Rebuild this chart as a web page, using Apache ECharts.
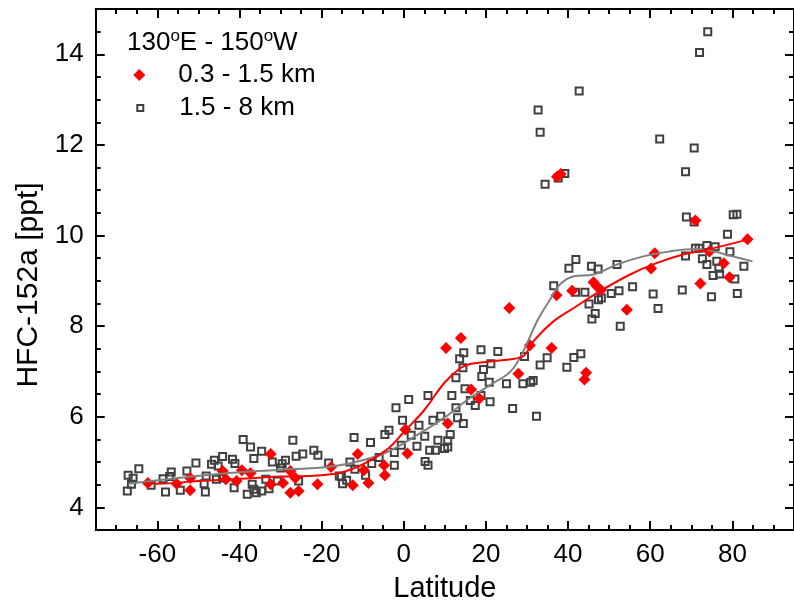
<!DOCTYPE html>
<html>
<head>
<meta charset="utf-8">
<script src="https://cdn.jsdelivr.net/npm/echarts@6/dist/echarts.min.js"></script>
<style>
html,body{margin:0;padding:0;background:#fff;}
#chart{width:794px;height:608px;}
</style>
</head>
<body>
<div id="chart"></div>
<script>
// Data (latitude, HFC-152a ppt)
const lowAlt = [ // 0.3 - 1.5 km
  [-62.3,4.54],[-55.3,4.52],[-52.0,4.65],[-52.0,4.38],[-44.1,4.8],[-43.3,4.62],[-40.7,4.58],
  [-39.4,4.82],[-37.3,4.75],[-32.4,5.18],[-32.4,4.51],[-29.4,4.54],[-27.6,4.8],[-26.4,4.65],
  [-27.6,4.32],[-25.6,4.36],[-21.0,4.51],[-17.7,4.89],[-12.4,4.49],[-11.2,5.18],[-9.7,4.82],
  [-8.6,4.54],[-4.8,4.93],[-4.6,4.71],[0.4,5.72],[0.9,5.19],[10.3,7.52],[13.9,7.74],[10.7,5.85],
  [16.4,6.6],[18.4,6.4],[25.7,8.4],[27.9,6.95],[30.7,7.58],[36.0,7.52],[37.3,11.3],[38.2,11.36],
  [44.4,6.97],[44.0,6.82],[37.2,8.68],[41.0,8.78],[46.2,8.97],[47.0,8.88],[48.0,8.8],[54.3,8.36],
  [60.2,9.27],[61.1,9.61],[71.0,10.33],[72.2,8.94],[74.4,9.65],[77.9,9.39],[79.3,9.08],[83.7,9.92]
];
const highAlt = [ // 1.5 - 8 km
  [-67.3,4.36],[-67.1,4.71],[-66.3,4.51],[-65.9,4.64],[-64.5,4.85],[-61.5,4.49],[-58.6,4.63],
  [-58.0,4.34],[-56.6,4.78],[-57.0,4.68],[-54.4,4.38],[-52.8,4.8],[-50.6,4.98],[-48.3,4.34],
  [-48.6,4.52],[-48.1,4.69],[-46.8,4.95],[-46.1,5.04],[-45.6,4.62],[-45.2,4.91],[-44.1,5.12],
  [-44.1,4.65],[-41.7,5.06],[-41.1,4.97],[-41.3,4.43],[-39.1,5.5],[-37.3,5.33],[-36.5,5.08],
  [-34.6,5.24],[-38.1,4.29],[-36.9,4.51],[-36.5,4.4],[-35.9,4.32],[-34.6,4.36],[-33.6,4.62],
  [-32.8,4.41],[-32.0,5.0],[-30.8,4.58],[-30.0,4.87],[-29.6,4.96],[-28.8,5.04],[-27.0,5.48],
  [-26.2,5.13],[-24.6,5.18],[-25.6,4.58],[-21.9,5.26],[-20.9,5.15],[-18.3,4.98],
  [-15.7,4.69],[-15.2,4.68],[-14.9,4.52],[-13.9,4.6],[-13.1,5.0],[-12.1,5.54],[-11.9,4.84],
  [-9.3,4.71],[-8.1,5.43],[-7.8,4.97],[-6.0,5.1],[-4.6,5.61],[-3.6,5.7],[-2.3,4.93],[-2.3,5.21],
  [-1.9,6.2],[-0.3,5.92],[-0.6,5.37],[1.2,6.38],[1.8,5.59],[3.2,5.35],[3.7,5.81],[5.1,5.57],
  [5.2,5.01],[5.9,4.93],[5.9,6.47],[7.1,5.92],[6.3,5.26],[7.7,5.26],[8.3,5.48],[9.0,6.01],
  [9.9,5.3],[10.7,5.33],[10.7,5.47],[11.3,5.61],[11.7,6.47],[12.7,6.2],[13.1,5.98],[14.5,5.85],
  [12.7,6.86],[13.6,7.28],[14.6,7.41],[14.4,7.08],[14.9,6.62],[16.2,6.36],[17.4,6.25],[18.8,7.48],
  [19.0,6.89],[19.4,7.04],[18.8,6.47],[21.0,6.33],[20.8,6.76],[21.2,7.17],[22.9,7.44],[25.0,6.73],
  [26.5,6.18],[29.0,6.73],[29.4,7.33],[30.9,6.76],[31.5,6.8],[32.3,6.01],[33.2,7.14],[34.9,7.3],
  [39.7,7.09],[41.4,7.31],[43.1,7.39],[42.7,13.19],[32.7,12.77],[33.2,12.28],[34.4,11.13],
  [37.6,11.27],[39.2,11.37],[62.3,12.13],[70.7,11.93],[68.6,11.41],[68.8,10.41],[70.7,10.3],
  [80.2,10.46],[81.1,10.47],[78.8,10.03],[41.9,9.47],[40.2,9.28],[45.7,9.32],[47.3,9.26],
  [51.9,9.36],[36.5,8.89],[41.8,8.75],[44.1,8.75],[50.5,8.72],[52.4,8.78],[55.7,8.87],[48.1,8.62],
  [47.4,8.58],[45.1,8.49],[46.6,8.28],[45.8,8.16],[52.7,8.0],[60.7,8.71],[61.9,8.39],[67.8,8.8],
  [74.9,8.65],[81.2,8.72],[68.6,9.55],[71.0,9.72],[71.9,9.72],[73.8,9.78],[75.8,9.75],[72.7,9.49],
  [73.8,9.36],[76.2,9.43],[76.7,9.28],[75.3,9.12],[76.9,9.15],[79.4,9.64],[80.6,9.04],[82.8,9.32],
  [74.0,14.5],[72.0,14.04]
];
const lowFit = [
  [-63,4.53],[-60,4.52],[-50,4.58],[-40,4.63],[-30,4.68],[-20,4.71],[-12.7,4.84],[-4.6,5.24],
  [0.2,5.68],[5.1,6.16],[9.9,6.75],[13.9,7.08],[16.4,7.17],[21.2,7.22],[26.9,7.28],[29.3,7.35],
  [31.7,7.68],[36.5,8.11],[41.4,8.4],[47.0,8.73],[55.1,9.14],[61.5,9.39],[68.0,9.58],[74.4,9.7],[83.7,9.91]
];
const highFit = [
  [-67,4.52],[-55,4.65],[-42.5,4.76],[-30,4.83],[-20,4.88],[-12.7,4.98],[-4.6,5.2],[3.5,5.61],
  [9.9,5.98],[15.6,6.38],[21.2,6.71],[26.0,7.0],[29.3,7.48],[32.5,8.12],[35.7,8.6],[38.0,8.92],
  [41.4,9.1],[46.2,9.14],[51.9,9.36],[58.3,9.54],[64.8,9.65],[71.2,9.7],[75.3,9.65],[80.1,9.54],[84.9,9.43]
];
const xTicks = [-60,-40,-20,0,20,40,60,80];
const yTicks = [4,6,8,10,12,14];

const FONT = "'Liberation Sans', Arial, sans-serif";

function mkAxis(pos, opts){
  return Object.assign({
    type:'value', position:pos, gridIndex:0,
    axisLine:{show:true, onZero:false, lineStyle:{color:'#000',width:2}},
    splitLine:{show:false},
    axisLabel:{show:false},
    axisTick:{show:false}
  }, opts);
}
const xMin=-75, xMax=95, yMin=3.5, yMax=15;
const hiddenLine = {show:false, onZero:false};
const majorTick = (vals) => ({show:true,inside:true,length:9,customValues:vals,lineStyle:{color:'#000',width:2}});
const minorTick = {show:true,inside:true,length:5,lineStyle:{color:'#000',width:2}};

const xAxes = [
  mkAxis('bottom',{min:xMin,max:xMax,
    axisTick:majorTick(xTicks),
    axisLabel:{show:true,customValues:xTicks,margin:12,fontSize:26,color:'#000',fontFamily:FONT},
    name:'Latitude', nameLocation:'middle', nameGap:44,
    nameTextStyle:{fontSize:29,color:'#000',fontFamily:FONT}}),
  mkAxis('bottom',{min:xMin,max:xMax,interval:5,axisLine:hiddenLine,axisTick:minorTick}),
  mkAxis('top',{min:xMin,max:xMax,axisTick:majorTick(xTicks)}),
  mkAxis('top',{min:xMin,max:xMax,interval:5,axisLine:hiddenLine,axisTick:minorTick})
];
const yAxes = [
  mkAxis('left',{min:yMin,max:yMax,
    axisTick:majorTick(yTicks),
    axisLabel:{show:true,customValues:yTicks,margin:12,fontSize:26,color:'#000',fontFamily:FONT},
    name:'HFC-152a [ppt]', nameLocation:'middle', nameGap:52,
    nameTextStyle:{fontSize:30,color:'#000',fontFamily:FONT,padding:[0,31,0,0]}}),
  mkAxis('left',{min:yMin,max:yMax,interval:0.5,axisLine:hiddenLine,axisTick:minorTick}),
  mkAxis('right',{min:yMin,max:yMax,axisTick:majorTick(yTicks)}),
  mkAxis('right',{min:yMin,max:yMax,interval:0.5,axisLine:hiddenLine,axisTick:minorTick})
];

const chart = echarts.init(document.getElementById('chart'), null, {renderer:'canvas'});
chart.setOption({
  animation:false,
  backgroundColor:'#fff',
  textStyle:{fontFamily:FONT},
  grid:{left:95.7, right:-4.3, top:9, bottom:77.3, containLabel:false},
  title:{
    text:'130{s|o}E - 150{s|o}W', left:127, top:28, padding:0,
    textStyle:{fontSize:26,fontWeight:'normal',color:'#000',fontFamily:FONT,
      rich:{s:{fontSize:17,color:'#000',fontFamily:FONT,verticalAlign:'top',padding:[0,0,12,0]}}}
  },
  legend:[
    {data:['0.3 - 1.5 km'], left:133.3, top:62, itemWidth:12, itemHeight:12, padding:0,
     itemStyle:{opacity:1},
     textStyle:{fontSize:26,color:'#000',fontFamily:FONT,padding:[0,0,0,28]}},
    {data:['1.5 - 8 km'], left:136.3, top:95, itemWidth:6, itemHeight:6, padding:0,
     itemStyle:{borderWidth:2,borderColor:'#404040',color:'rgba(255,255,255,0)',opacity:1},
     textStyle:{fontSize:26,color:'#000',fontFamily:FONT,padding:[0,0,0,31]}}
  ],
  xAxis:xAxes,
  yAxis:yAxes,
  series:[
    {name:'1.5 - 8 km', type:'scatter', data:highAlt, symbol:'rect', symbolSize:7,
     itemStyle:{color:'rgba(255,255,255,0)', borderColor:'#404040', borderWidth:2, opacity:1}, z:2},
    {name:'0.3 - 1.5 km', type:'scatter', data:lowAlt, symbol:'diamond', symbolSize:12,
     itemStyle:{color:'#ff0000', opacity:1}, z:3},
    {name:'fitHigh', type:'line', data:highFit, smooth:0.4, showSymbol:false, symbol:'none',
     lineStyle:{color:'#808080', width:2}, z:4},
    {name:'fitLow', type:'line', data:lowFit, smooth:0.4, showSymbol:false, symbol:'none',
     lineStyle:{color:'#ff0000', width:2}, z:5}
  ]
});
</script>
</body>
</html>
